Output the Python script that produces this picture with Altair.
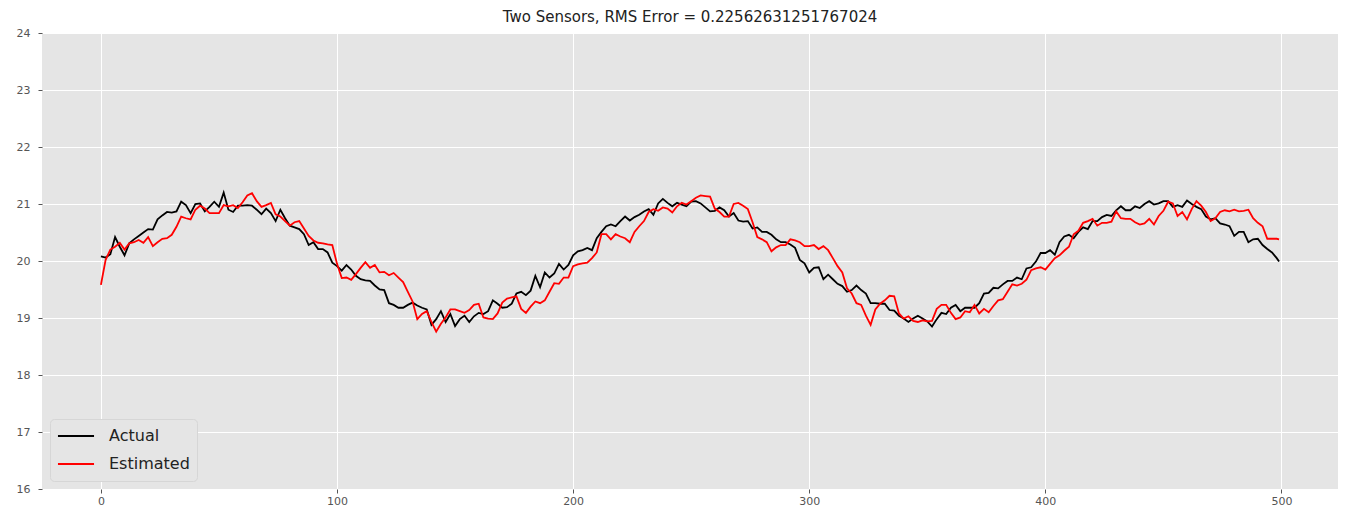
import altair as alt
import pandas as pd

# sample index (every 2nd step, plus the last sample)
steps = list(range(0, 500, 2)) + [499]

actual = [
    20.08, 20.06, 20.12, 20.42, 20.25, 20.10, 20.31, 20.38, 20.44, 20.50, 20.56, 20.55, 20.73, 20.80, 20.86, 20.85,
    20.87, 21.04, 20.98, 20.84, 21.00, 21.01, 20.87, 20.95, 21.04, 20.95, 21.20, 20.90, 20.86, 20.97, 20.97, 20.98,
    20.97, 20.90, 20.82, 20.92, 20.84, 20.70, 20.90, 20.75, 20.62,
    20.59, 20.56, 20.47, 20.28, 20.33, 20.21, 20.21, 20.15, 19.97, 19.91, 19.83, 19.93, 19.85, 19.74, 19.68, 19.66,
    19.65, 19.57, 19.50, 19.49, 19.26, 19.23, 19.18, 19.18, 19.23, 19.27, 19.22, 19.18, 19.15, 18.88, 18.98, 19.12,
    18.93, 19.07, 18.86, 18.98, 19.04, 18.93, 19.03, 19.09, 19.07,
    19.12, 19.31, 19.25, 19.18, 19.19, 19.25, 19.43, 19.46, 19.40, 19.48, 19.74, 19.54, 19.80, 19.71, 19.78, 19.95,
    19.85, 19.93, 20.10, 20.17, 20.19, 20.23, 20.19, 20.40, 20.51, 20.61, 20.64, 20.61, 20.70, 20.78, 20.71, 20.77,
    20.81, 20.87, 20.91, 20.81, 21.01, 21.09, 21.02, 20.96, 21.02,
    20.99, 20.96, 21.04, 21.05, 21.01, 20.94, 20.87, 20.88, 20.94, 20.89, 20.78, 20.84, 20.71, 20.69, 20.70, 20.57,
    20.59, 20.51, 20.51, 20.46, 20.38, 20.33, 20.33, 20.29, 20.23, 20.02, 19.96, 19.80, 19.88, 19.89, 19.68, 19.76,
    19.68, 19.60, 19.56, 19.46, 19.49, 19.57, 19.49, 19.43, 19.26,
    19.26, 19.25, 19.25, 19.14, 19.13, 19.04, 18.99, 18.93, 18.99, 19.04, 18.99, 18.94, 18.85, 18.98, 19.09, 19.07,
    19.18, 19.23, 19.12, 19.18, 19.18, 19.18, 19.26, 19.43, 19.44, 19.53, 19.52, 19.59, 19.65, 19.65, 19.71, 19.68,
    19.87, 19.89, 19.99, 20.14, 20.14, 20.19, 20.11, 20.33, 20.43,
    20.46, 20.40, 20.51, 20.59, 20.56, 20.70, 20.70, 20.77, 20.81, 20.79, 20.89, 20.96, 20.89, 20.89, 20.96, 20.93,
    21.00, 21.05, 20.99, 21.01, 21.05, 21.05, 20.95, 20.98, 20.95, 21.06, 21.00, 20.95, 20.91, 20.78, 20.73, 20.75,
    20.66, 20.64, 20.61, 20.44, 20.51, 20.51, 20.33, 20.38, 20.39, 20.28, 20.21, 20.15, 20.05, 19.99,
]

estimated = [
    19.58, 20.02, 20.20, 20.25, 20.32, 20.20, 20.31, 20.33, 20.37, 20.32, 20.42, 20.26, 20.33, 20.39, 20.40, 20.46,
    20.60, 20.78, 20.75, 20.73, 20.90, 20.97, 20.92, 20.84, 20.84, 20.84, 20.98, 20.96, 20.98, 20.93, 21.03, 21.15,
    21.19, 21.05, 20.95, 20.98, 21.02, 20.82, 20.78, 20.70, 20.62,
    20.68, 20.70, 20.57, 20.44, 20.36, 20.32, 20.31, 20.29, 20.28, 19.95, 19.70, 19.71, 19.67, 19.77, 19.88, 19.98,
    19.88, 19.93, 19.80, 19.81, 19.75, 19.79, 19.71, 19.63, 19.46, 19.29, 18.98, 19.07, 19.12, 18.93, 18.76, 18.90,
    19.01, 19.15, 19.15, 19.12, 19.09, 19.14, 19.23, 19.25, 19.01,
    18.99, 18.98, 19.08, 19.27, 19.34, 19.36, 19.38, 19.16, 19.09, 19.20, 19.29, 19.26, 19.31, 19.46, 19.61, 19.60,
    19.71, 19.71, 19.91, 19.94, 19.96, 19.97, 20.05, 20.15, 20.47, 20.47, 20.38, 20.47, 20.43, 20.40, 20.33, 20.51,
    20.61, 20.70, 20.86, 20.91, 20.88, 20.94, 20.92, 20.85, 20.96,
    21.02, 20.99, 21.05, 21.11, 21.15, 21.14, 21.13, 20.92, 20.86, 20.78, 20.78, 21.00, 21.02, 20.97, 20.91, 20.68,
    20.42, 20.38, 20.33, 20.17, 20.24, 20.28, 20.28, 20.38, 20.36, 20.33, 20.26, 20.26, 20.28, 20.21, 20.26, 20.19,
    20.05, 19.91, 19.80, 19.52, 19.43, 19.26, 19.23, 19.04, 18.88,
    19.15, 19.25, 19.31, 19.39, 19.38, 19.08, 18.99, 19.03, 18.95, 18.93, 18.96, 18.94, 18.95, 19.16, 19.23, 19.23,
    19.09, 18.98, 19.01, 19.12, 19.10, 19.23, 19.08, 19.16, 19.10, 19.21, 19.31, 19.33, 19.46, 19.59, 19.57, 19.60,
    19.67, 19.84, 19.87, 19.89, 19.85, 19.95, 20.05, 20.10, 20.18,
    20.25, 20.47, 20.53, 20.67, 20.70, 20.74, 20.62, 20.67, 20.67, 20.69, 20.87, 20.75, 20.74, 20.74, 20.68, 20.64,
    20.66, 20.74, 20.64, 20.79, 20.88, 21.04, 21.01, 20.79, 20.86, 20.73, 20.91, 21.05, 20.97, 20.86, 20.70, 20.75,
    20.86, 20.89, 20.87, 20.90, 20.87, 20.88, 20.90, 20.75, 20.67, 20.61, 20.39, 20.39, 20.39, 20.38,
]

series_names = ["Actual", "Estimated"]
series_colors = ["#000000", "#FF0000"]
x_ticks = [0, 100, 200, 300, 400, 500]
y_ticks = [16, 17, 18, 19, 20, 21, 22, 23, 24]
title_text = "Two Sensors, RMS Error = 0.22562631251767024"

df = pd.concat([
    pd.DataFrame({"step": steps, "temp": actual, "series": "Actual"}),
    pd.DataFrame({"step": steps, "temp": estimated, "series": "Estimated"}),
])

FONT = "DejaVu Sans"

chart = alt.Chart(df).mark_line(strokeWidth=1.8).encode(
    x=alt.X("step:Q",
            scale=alt.Scale(domain=[-24.95, 523.95], nice=False, zero=False),
            axis=alt.Axis(values=x_ticks, title=None, format="d", labelPadding=2)),
    y=alt.Y("temp:Q",
            scale=alt.Scale(domain=[16, 24], nice=False, zero=False),
            axis=alt.Axis(values=y_ticks, title=None, format="d", labelPadding=8)),
    color=alt.Color("series:N",
                    scale=alt.Scale(domain=series_names, range=series_colors),
                    legend=alt.Legend(orient="bottom-left", offset=8, title=None,
                                      symbolType="stroke", symbolSize=1300,
                                      symbolStrokeWidth=1.8, clipHeight=20,
                                      labelFontSize=16, labelFont=FONT, labelColor="#222222",
                                      fillColor="#E5E5E5", strokeColor="#D6D6D6",
                                      padding=7, rowPadding=8, labelOffset=14,
                                      cornerRadius=4)),
    order=alt.Order("step:Q"),
).properties(
    width=1296,
    height=456,
    autosize=alt.AutoSizeParams(type="none"),
    padding={"left": 34, "top": 25, "right": 0, "bottom": 18},
    title=alt.TitleParams(title_text, fontSize=15, font=FONT, fontWeight="normal",
                          color="#222222", anchor="middle", offset=2),
).configure_view(
    fill="#E5E5E5", stroke=None
).configure_axis(
    domain=False, grid=True, gridColor="#FFFFFF", gridWidth=1,
    tickColor="#555555", tickSize=4, labelColor="#555555",
    labelFont=FONT, labelFontSize=11,
)

chart.save("out.html", embed_options={"renderer": "svg", "actions": False})
